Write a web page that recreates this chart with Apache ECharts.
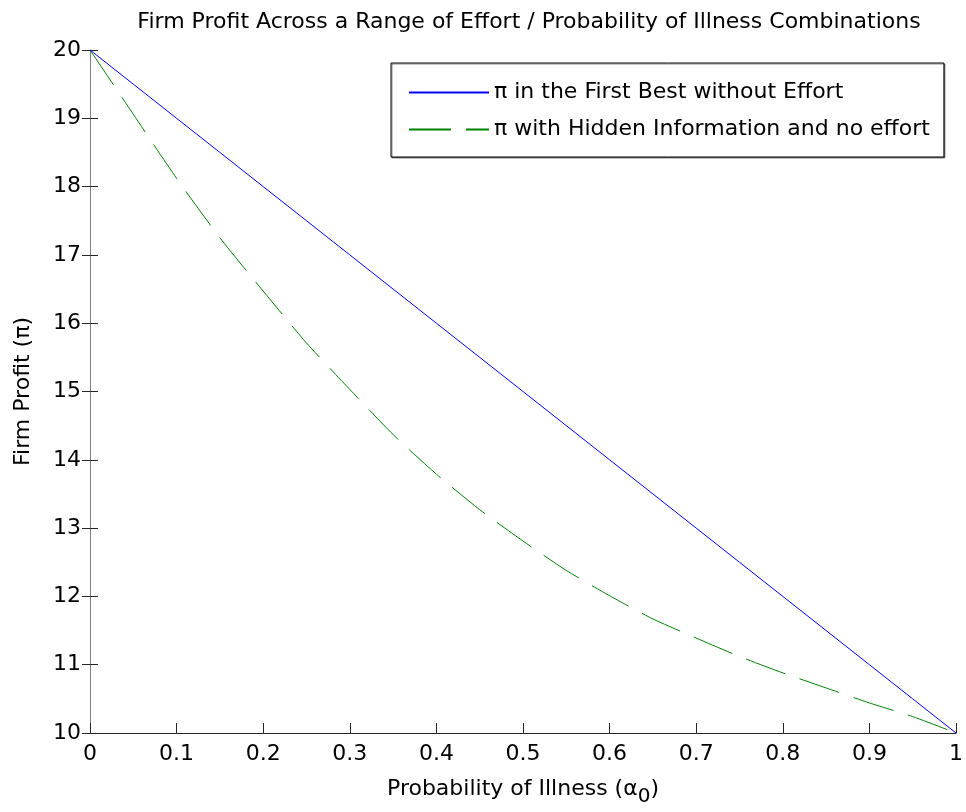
<!DOCTYPE html>
<html>
<head>
<meta charset="utf-8">
<script src="https://cdn.jsdelivr.net/npm/echarts@6/dist/echarts.min.js"></script>
<style>
  html, body { margin: 0; padding: 0; background: #fff; }
  #chart { width: 966px; height: 812px; }
</style>
</head>
<body>
<div id="chart"></div>
<script>
// Probability of illness (alpha_0)
const alpha = [0, 0.05, 0.1, 0.15, 0.2, 0.25, 0.3, 0.35, 0.4, 0.45, 0.5,
               0.55, 0.6, 0.65, 0.7, 0.75, 0.8, 0.85, 0.9, 0.95, 1];
// Firm profit in the first best without effort
const profitFirstBest = [20, 19.5, 19, 18.5, 18, 17.5, 17, 16.5, 16, 15.5, 15,
                         14.5, 14, 13.5, 13, 12.5, 12, 11.5, 11, 10.5, 10];
// Firm profit with hidden information and no effort
const profitHidden = [20, 19.06, 18.12, 17.25, 16.47, 15.71, 15.03, 14.37, 13.79, 13.27, 12.81,
                      12.38, 12.01, 11.67, 11.39, 11.12, 10.88, 10.66, 10.44, 10.24, 10];

const xTicks = { min: 0, max: 1, interval: 0.1 };
const yTicks = { min: 10, max: 20, interval: 1 };

const FONT = '"DejaVu Sans", "Liberation Sans", Arial, sans-serif';
const FS = 22;

const pairs = (ys) => alpha.map((a, i) => [a, ys[i]]);

const chart = echarts.init(document.getElementById('chart'), null, { renderer: 'canvas' });

chart.setOption({
  animation: false,
  backgroundColor: '#fff',
  textStyle: { fontFamily: FONT },
  title: {
    text: 'Firm Profit Across a Range of Effort / Probability of Illness Combinations',
    left: 524,
    top: 6,
    textAlign: 'center',
    textStyle: { fontFamily: FONT, fontSize: FS, fontWeight: 'normal', color: '#000' }
  },
  grid: { left: 90, right: 8, top: 50, bottom: 79, containLabel: false },
  legend: {
    orient: 'vertical',
    left: 391,
    top: 63,
    padding: [17, 14, 15, 17],
    itemWidth: 80,
    itemHeight: 14,
    itemGap: 12,
    backgroundColor: '#fff',
    borderColor: '#000',
    borderWidth: 1,
    shadowColor: 'rgba(0,0,0,0.45)',
    shadowBlur: 0,
    shadowOffsetX: 1,
    shadowOffsetY: 1,
    itemStyle: { opacity: 0 },
    textStyle: { fontFamily: FONT, fontSize: FS, color: '#000', lineHeight: 25 },
    data: ['π in the First Best without Effort', 'π with Hidden Information and no effort']
  },
  xAxis: {
    type: 'value',
    min: xTicks.min,
    max: xTicks.max,
    interval: xTicks.interval,
    name: '{n|Probability of Illness (α}{s|0}{n|)}',
    nameLocation: 'middle',
    nameGap: 45,
    nameTextStyle: {
      rich: {
        n: { fontFamily: FONT, fontSize: FS, color: '#000', verticalAlign: 'top' },
        s: { fontFamily: FONT, fontSize: FS - 2, color: '#000', verticalAlign: 'top', padding: [9, 0, 0, 0] }
      }
    },
    axisLine: { show: true, onZero: false, lineStyle: { color: '#262626', width: 1 } },
    axisTick: { show: true, inside: true, length: 10, lineStyle: { color: '#262626' } },
    axisLabel: {
      margin: 10,
      fontFamily: FONT, fontSize: FS, color: '#000',
      formatter: (v) => String(Math.round(v * 10) / 10)
    },
    splitLine: { show: false }
  },
  yAxis: [
    {
      type: 'value',
      position: 'left',
      min: yTicks.min,
      max: yTicks.max,
      interval: yTicks.interval,
      name: 'Firm Profit (π)',
      nameLocation: 'middle',
      nameGap: 56,
      nameTextStyle: { fontFamily: FONT, fontSize: FS, color: '#000' },
      axisLine: { show: true, onZero: false, lineStyle: { color: '#808080', width: 1 } },
      axisTick: { show: true, inside: true, length: 8, lineStyle: { color: '#262626' } },
      axisLabel: { margin: 9, fontFamily: FONT, fontSize: FS, color: '#000' },
      splitLine: { show: false }
    },
    {
      // outer half of the y tick marks
      type: 'value',
      position: 'left',
      offset: 0,
      min: yTicks.min,
      max: yTicks.max,
      interval: yTicks.interval,
      axisLine: { show: false },
      axisTick: { show: true, inside: false, length: 8, lineStyle: { color: '#262626' } },
      axisLabel: { show: false },
      splitLine: { show: false }
    }
  ],
  series: [
    {
      name: 'π in the First Best without Effort',
      type: 'line',
      data: pairs(profitFirstBest),
      showSymbol: false,
      symbol: 'none',
      lineStyle: { color: '#0000ff', width: 1 },
      itemStyle: { color: '#0000ff' },
      z: 3
    },
    {
      name: 'π with Hidden Information and no effort',
      type: 'line',
      data: pairs(profitHidden),
      showSymbol: false,
      symbol: 'none',
      smooth: 0.2,
      lineStyle: { color: '#008000', width: 1, type: [42, 15] },
      itemStyle: { color: '#008000' },
      z: 2
    }
  ]
});
</script>
</body>
</html>
